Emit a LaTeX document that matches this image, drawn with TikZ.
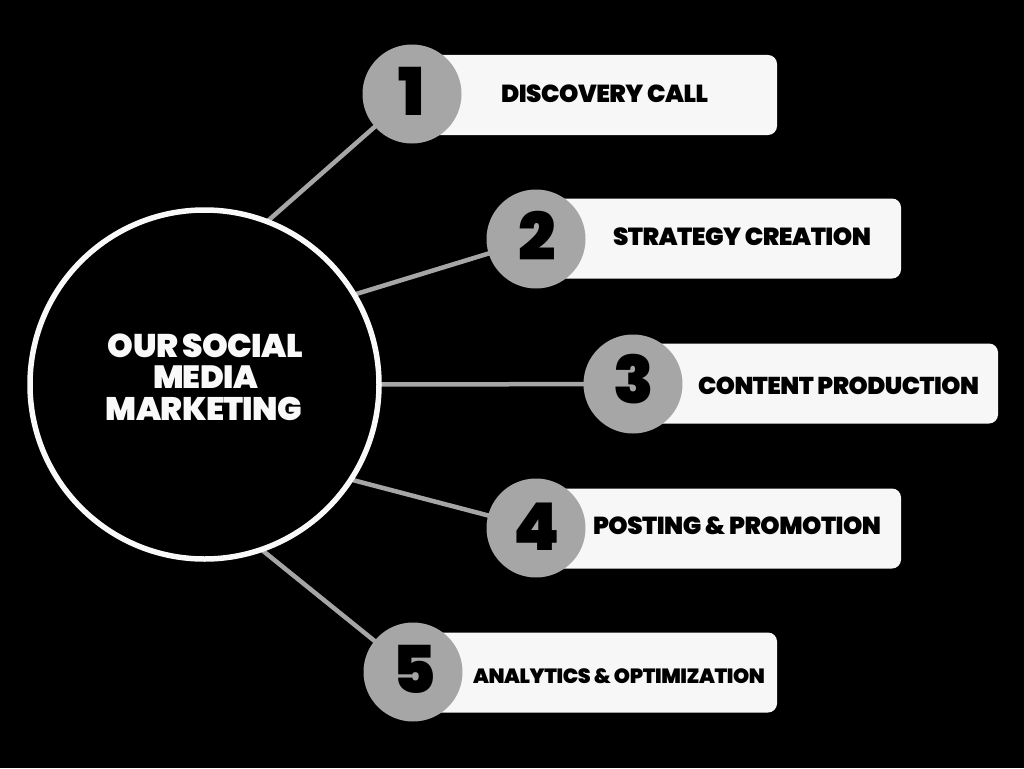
\documentclass[tikz,border=0pt]{standalone}
\usepackage{fontspec}
\setmainfont{Poppins}
\newfontfamily\pxb{Poppins Black}[LetterSpace=-2]
\newfontfamily\pbl{Poppins Black}
\usetikzlibrary{backgrounds}
\definecolor{boxfill}{HTML}{F7F7F7}
\definecolor{numgray}{HTML}{A6A6A6}
\definecolor{ringwhite}{HTML}{F9F9F9}
\begin{document}
\begin{tikzpicture}[x=1pt,y=-1pt,
  hub/.style={circle, draw=ringwhite, line width=5.5pt, fill=black, minimum size=349pt, inner sep=0pt, outer sep=0pt},
  numdot/.style={circle, fill=numgray, minimum size=99pt, inner sep=0pt, outer sep=0pt},
  stepbox/.style={rounded corners=9pt, fill=boxfill, minimum width=365pt, minimum height=80pt, anchor=west, inner sep=0pt, outer sep=0pt},
  link/.style={draw=numgray, line width=4.5pt},
  numtxt/.style={font=\pbl\fontsize{66}{66}\selectfont, text=black, anchor=base, inner sep=0pt},
  labtxt/.style={font=\pxb\fontsize{22}{22}\selectfont, text=black, anchor=base, inner sep=0pt},
  hubtxt/.style={font=\pxb\fontsize{32}{32}\selectfont, text=ringwhite, anchor=base, inner sep=0pt}]
\useasboundingbox (0,0) rectangle (1024,768);

% hub
\node[hub] (hub) at (204.5,384.5) {};
\node[hubtxt] (h1) at (205.5,357) {\resizebox{195pt}{!}{OUR SOCIAL}};
\node[hubtxt] (h2) at (205.5,388.5) {\resizebox{105pt}{!}{MEDIA}};
\node[hubtxt] (h3) at (204,420) {\resizebox{196pt}{!}{MARKETING}};

% boxes
\node[stepbox] (b1) at (412,95) {};
\node[stepbox] (b2) at (536,238.5) {};
\node[stepbox] (b3) at (633,383.5) {};
\node[stepbox] (b4) at (536,528.5) {};
\node[stepbox] (b5) at (412,672.5) {};

% number circles
\node[numdot] (c1) at (412,94) {};
\node[numdot] (c2) at (536,239) {};
\node[numdot] (c3) at (633,384) {};
\node[numdot] (c4) at (536,528) {};
\node[numdot] (c5) at (413,672) {};

\node[numtxt] (n1) at (412,115) {1};
\node[numtxt] (n2) at (537,260) {2};
\node[numtxt] (n3) at (634,403) {3};
\node[numtxt] (n4) at (537,550) {4};
\node[numtxt] (n5) at (414,693) {5};

% labels
\node[labtxt] (t1) at (604.5,102) {\resizebox{207pt}{!}{DISCOVERY CALL}};
\node[labtxt] (t2) at (742,245) {\resizebox{258pt}{!}{STRATEGY CREATION}};
\node[labtxt] (t3) at (838.5,394) {\resizebox{281pt}{!}{CONTENT PRODUCTION}};
\node[labtxt] (t4) at (737,534) {\resizebox{288pt}{!}{POSTING \& PROMOTION}};
\node[labtxt] (t5) at (619,683) {\resizebox{292pt}{!}{ANALYTICS \& OPTIMIZATION}};

\begin{pgfonlayer}{background}
  \fill[black] (0,0) rectangle (1024,768);
  \draw[link] (hub.69.5) -- (c1.center);
  \draw[link] (hub.31) -- (c2.center);
  \draw[link] (hub.0) -- (c3.center);
  \draw[link] (hub.-33) -- (c4.center);
  \draw[link] (hub.-71) -- (c5.center);
\end{pgfonlayer}
\end{tikzpicture}
\end{document}
